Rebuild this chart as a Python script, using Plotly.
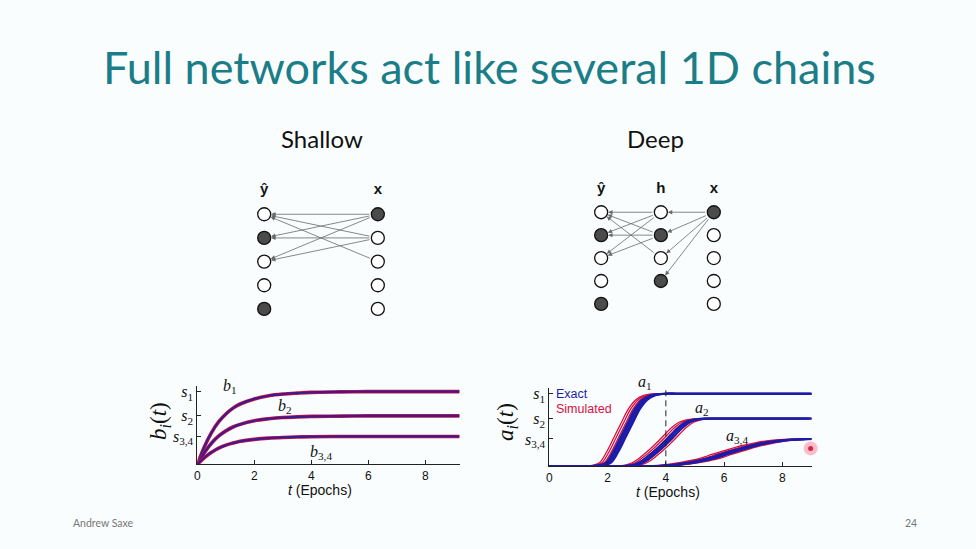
import plotly.graph_objects as go

# ---------------- data ----------------
title_text = "Full networks act like several 1D chains"
panel_titles = ["Shallow", "Deep"]

# shallow network
sh_layers = ["ŷ", "x"]
sh_layer_pos = [0, 1]
sh_filled = [[0, 1, 0, 0, 1], [1, 0, 0, 0, 0]]
sh_edges = [(1, 0, 0, 0), (1, 0, 0, 1), (1, 0, 0, 2),
            (1, 1, 0, 0), (1, 1, 0, 1), (1, 1, 0, 2), (1, 2, 0, 0)]

# deep network
dp_layers = ["ŷ", "h", "x"]
dp_layer_pos = [0, 1.06, 2]
dp_filled = [[0, 1, 0, 0, 1], [0, 1, 0, 1], [1, 0, 0, 0, 0]]
dp_edges = [(2, 0, 1, 0), (2, 0, 1, 1), (2, 0, 1, 2), (2, 0, 1, 3),
            (1, 0, 0, 0), (1, 0, 0, 1), (1, 0, 0, 2),
            (1, 1, 0, 0), (1, 1, 0, 1), (1, 1, 0, 2), (1, 2, 0, 0)]

# shallow learning curves b_i(t)
t_b = [0, 0.25, 0.5, 0.75, 1, 1.25, 1.5, 2, 2.5, 3, 3.5, 4, 5, 6, 7, 8, 9.2]
b1 = [0, 0.74, 1.32, 1.76, 2.08, 2.32, 2.49, 2.70, 2.83, 2.90, 2.94, 2.97, 2.99, 3.0, 3.0, 3.0, 3.0]
b2 = [0, 0.49, 0.88, 1.17, 1.38, 1.54, 1.65, 1.80, 1.88, 1.93, 1.96, 1.98, 1.99, 2.0, 2.0, 2.0, 2.0]
b34 = [0, 0.28, 0.50, 0.67, 0.79, 0.88, 0.95, 1.03, 1.08, 1.11, 1.13, 1.14, 1.15, 1.15, 1.15, 1.15, 1.15]

# deep learning curves a_i(t)
t_a = [0, 0.5, 1, 1.5, 1.75, 2, 2.25, 2.5, 2.75, 3, 3.25, 3.5, 3.75, 4, 4.25, 4.5,
       4.75, 5, 5.25, 5.5, 5.75, 6, 6.5, 7, 7.5, 8, 8.5, 9]
a1 = [0, 0, 0, 0.01, 0.04, 0.15, 0.6, 1.2, 1.8, 2.38, 2.75, 2.92, 2.98, 3.0, 3.0, 3.0,
      3.0, 3.0, 3.0, 3.0, 3.0, 3.0, 3.0, 3.0, 3.0, 3.0, 3.0, 3.0]
a2 = [0, 0, 0, 0, 0, 0, 0, 0, 0.02, 0.08, 0.22, 0.45, 0.70, 0.99, 1.30, 1.60,
      1.82, 1.92, 1.96, 1.97, 1.97, 1.97, 1.97, 1.97, 1.97, 1.97, 1.97, 1.97]
a34 = [0, 0, 0, 0, 0, 0, 0, 0, 0, 0, 0, 0, 0.01, 0.03, 0.05, 0.09,
       0.13, 0.18, 0.24, 0.31, 0.40, 0.50, 0.68, 0.85, 0.98, 1.07, 1.11, 1.13]
exact_shift = {"a1": [-0.06, 0.0, 0.06, 0.12], "a2": [-0.08, 0.0, 0.08], "a34": [-0.12, 0.0, 0.12]}
sim_shift = {"a1": [-0.28, -0.2, -0.12, -0.04, 0.1],
             "a2": [-0.3, -0.2, -0.1, 0.1, 0.2],
             "a34": [-0.4, -0.25, -0.1, 0.15, 0.28]}
dash_t = 4
pointer = (8.97, 0.74)

s_vals = [3.0, 2.0, 1.15]
s_vals_a = [3.0, 1.97, 1.13]
s_text = ["<i>s</i><sub>1</sub>", "<i>s</i><sub>2</sub>", "<i>s</i><sub>3,4</sub>"]
x_ticks = [0, 2, 4, 6, 8]

# ---------------- styling ----------------
W, H = 976, 549
BG = "#fafdfd"
BLUE = "#1c1ca8"
RED = "#d8103f"
SERIF = "Liberation Serif"
SANS = "Liberation Sans"

def px(x):
    return x / W

def py(y):
    return 1 - y / H

fig = go.Figure()

# ---- left: shallow curves ----
for ys in [b1, b2, b34]:
    fig.add_trace(go.Scatter(x=t_b, y=ys, mode="lines", line=dict(color=RED, width=3.6, shape="spline"),
                             xaxis="x", yaxis="y", showlegend=False, hoverinfo="skip"))
    fig.add_trace(go.Scatter(x=t_b, y=ys, mode="lines", line=dict(color="#3a1c8c", width=2.2, shape="spline"),
                             xaxis="x", yaxis="y", showlegend=False, hoverinfo="skip"))

# ---- right: deep curves ----
for key, ys in [("a1", a1), ("a2", a2), ("a34", a34)]:
    for sh in sim_shift[key]:
        fig.add_trace(go.Scatter(x=[t + sh for t in t_a], y=ys, mode="lines",
                                 line=dict(color=RED, width=1.3, shape="spline"),
                                 xaxis="x2", yaxis="y2", showlegend=False, hoverinfo="skip"))
for key, ys in [("a1", a1), ("a2", a2), ("a34", a34)]:
    for sh in exact_shift[key]:
        fig.add_trace(go.Scatter(x=[t + sh for t in t_a], y=ys, mode="lines",
                                 line=dict(color=BLUE, width=2.0, shape="spline"),
                                 xaxis="x2", yaxis="y2", showlegend=False, hoverinfo="skip"))
fig.add_trace(go.Scatter(x=[dash_t, dash_t], y=[0, 3.3], mode="lines",
                         line=dict(color="#222", width=1, dash="6px,4px"),
                         xaxis="x2", yaxis="y2", showlegend=False, hoverinfo="skip"))
fig.add_trace(go.Scatter(x=[pointer[0]], y=[pointer[1]], mode="markers",
                         marker=dict(size=14, color="rgba(255,70,100,0.35)", line=dict(width=0)),
                         xaxis="x2", yaxis="y2", showlegend=False, hoverinfo="skip", cliponaxis=False))
fig.add_trace(go.Scatter(x=[pointer[0]], y=[pointer[1]], mode="markers",
                         marker=dict(size=5, color="rgba(210,20,60,0.9)", line=dict(width=0)),
                         xaxis="x2", yaxis="y2", showlegend=False, hoverinfo="skip", cliponaxis=False))

annotations = []

# ---- network diagrams ----
def draw_net(layers, layer_pos, filled, edges, xa, ya):
    for li, name in enumerate(layers):
        n = len(filled[li])
        xs = [layer_pos[li]] * n
        ys = list(range(n))
        cols = ["#4b4b4b" if f else "white" for f in filled[li]]
        fig.add_trace(go.Scatter(x=xs, y=ys, mode="markers",
                                 marker=dict(size=13, color=cols, line=dict(color="#111", width=1.3)),
                                 xaxis=xa, yaxis=ya, showlegend=False, hoverinfo="skip", cliponaxis=False))
        fig.add_trace(go.Scatter(x=[layer_pos[li]], y=[-1], mode="text", text=["<b>%s</b>" % name],
                                 textfont=dict(family=SANS, size=15, color="#111"),
                                 xaxis=xa, yaxis=ya, showlegend=False, hoverinfo="skip", cliponaxis=False))
    for (l0, n0, l1, n1) in edges:
        annotations.append(dict(x=layer_pos[l1], y=n1, ax=layer_pos[l0], ay=n0,
                                xref=xa, yref=ya, axref=xa, ayref=ya,
                                showarrow=True, arrowhead=2, arrowsize=1.1, arrowwidth=0.8,
                                arrowcolor="#6a6a6a", standoff=7, startstandoff=7, text=""))

draw_net(sh_layers, sh_layer_pos, sh_filled, sh_edges, "x3", "y3")
draw_net(dp_layers, dp_layer_pos, dp_filled, dp_edges, "x4", "y4")

# ---- text ----
annotations.append(dict(text=title_text, x=px(488), y=py(65), xref="paper", yref="paper",
                        showarrow=False, font=dict(family="Lato", size=45, color="#1b7d88"),
                        xanchor="center", yanchor="middle"))
for t, cx in zip(panel_titles, [320, 655]):
    annotations.append(dict(text=t, x=px(cx), y=py(137), xref="paper", yref="paper",
                            showarrow=False, font=dict(family="Lato", size=24, color="#111"),
                            xanchor="center", yanchor="middle"))
annotations.append(dict(text="Andrew Saxe", x=px(68), y=py(523), xref="paper", yref="paper",
                        showarrow=False, font=dict(family="Lato", size=10.5, color="#777"),
                        xanchor="left", yanchor="middle"))
annotations.append(dict(text="24", x=px(919), y=py(523), xref="paper", yref="paper",
                        showarrow=False, font=dict(family="Lato", size=10.5, color="#777"),
                        xanchor="right", yanchor="middle"))

# axis titles
annotations.append(dict(text="<i>b<sub>i</sub></i>(<i>t</i>)", x=px(158), y=py(421), xref="paper", yref="paper",
                        showarrow=False, textangle=-90, font=dict(family=SERIF, size=23, color="#111"),
                        xanchor="center", yanchor="middle"))
annotations.append(dict(text="<i>a<sub>i</sub></i>(<i>t</i>)", x=px(506), y=py(421), xref="paper", yref="paper",
                        showarrow=False, textangle=-90, font=dict(family=SERIF, size=23, color="#111"),
                        xanchor="center", yanchor="middle"))
annotations.append(dict(text="<i>t</i> (Epochs)", x=px(318), y=py(490), xref="paper", yref="paper",
                        showarrow=False, font=dict(family=SANS, size=14, color="#111"),
                        xanchor="center", yanchor="middle"))
annotations.append(dict(text="<i>t</i> (Epochs)", x=px(667), y=py(492), xref="paper", yref="paper",
                        showarrow=False, font=dict(family=SANS, size=14, color="#111"),
                        xanchor="center", yanchor="middle"))

# curve labels
for txt, x, y in [("<i>b</i><sub>1</sub>", 1.16, 3.2), ("<i>b</i><sub>2</sub>", 3.07, 2.4),
                  ("<i>b</i><sub>3,4</sub>", 4.35, 0.5)]:
    annotations.append(dict(text=txt, x=x, y=y, xref="x", yref="y", showarrow=False,
                            font=dict(family=SERIF, size=16, color="#111")))
for txt, x, y, ys in [("<i>a</i><sub>1</sub>", 3.3, 3.2, 6), ("<i>a</i><sub>2</sub>", 5.25, 2.4, 0),
                      ("<i>a</i><sub>3,4</sub>", 6.45, 1.25, 0)]:
    annotations.append(dict(text=txt, x=x, y=y, yshift=ys, xref="x2", yref="y2", showarrow=False,
                            font=dict(family=SERIF, size=16, color="#111")))
annotations.append(dict(text="Exact", x=0.17, y=2.97, xref="x2", yref="y2", showarrow=False,
                        xanchor="left", font=dict(family=SANS, size=12.5, color=BLUE)))
annotations.append(dict(text="Simulated", x=0.17, y=2.36, xref="x2", yref="y2", showarrow=False,
                        xanchor="left", font=dict(family=SANS, size=12.5, color=RED)))

axis_common = dict(showline=True, linecolor="#222", linewidth=1, ticks="inside", ticklen=4,
                   tickcolor="#222", showgrid=False, zeroline=False, mirror=False)

fig.update_layout(
    width=W, height=H, margin=dict(l=0, r=0, t=0, b=0),
    paper_bgcolor=BG, plot_bgcolor=BG, showlegend=False,
    annotations=annotations,
    xaxis=dict(domain=[px(195), px(458)], range=[0, 9.2], tickvals=x_ticks,
               tickfont=dict(family=SANS, size=12, color="#111"), anchor="y", **axis_common),
    yaxis=dict(domain=[py(464), py(385)], range=[0, 3.25], tickvals=s_vals, ticktext=s_text,
               tickfont=dict(family=SERIF, size=16, color="#111"), anchor="x", **axis_common),
    xaxis2=dict(domain=[px(548), px(811)], range=[0, 9], tickvals=x_ticks,
                tickfont=dict(family=SANS, size=12, color="#111"), anchor="y2", **axis_common),
    yaxis2=dict(domain=[py(466), py(387)], range=[0, 3.25], tickvals=s_vals_a, ticktext=s_text,
                tickfont=dict(family=SERIF, size=16, color="#111"), anchor="x2", **axis_common),
    xaxis3=dict(domain=[px(205), px(433)], range=[-0.5, 1.5], visible=False, anchor="y3"),
    yaxis3=dict(domain=[py(319.9), py(177.4)], range=[4.5, -1.5], visible=False, anchor="x3"),
    xaxis4=dict(domain=[px(571.75), px(741.25)], range=[-0.5, 2.5], visible=False, anchor="y4"),
    yaxis4=dict(domain=[py(314.5), py(176.5)], range=[4.5, -1.5], visible=False, anchor="x4"),
)

fig.write_html("out.html", config={"displayModeBar": False},
               post_script="document.body.style.margin='0';document.body.style.background='%s';" % BG)
